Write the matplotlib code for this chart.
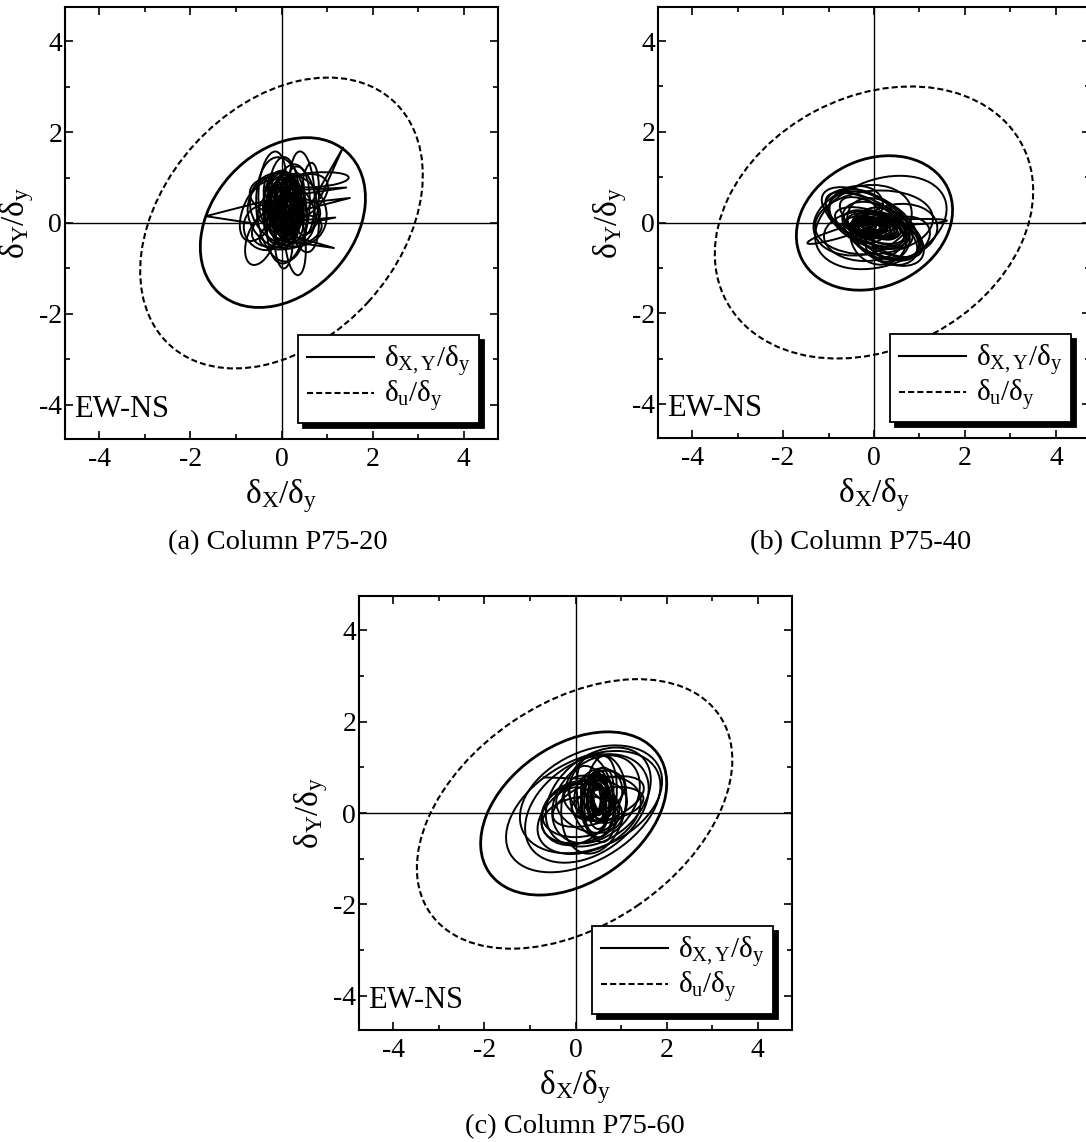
import matplotlib
matplotlib.use('Agg')
import matplotlib.pyplot as plt
from matplotlib.patches import Ellipse
from matplotlib.lines import Line2D
from matplotlib.ticker import MultipleLocator

plt.rcParams['font.family'] = ['Liberation Serif', 'DejaVu Serif']
plt.rcParams['mathtext.fontset'] = 'custom'
plt.rcParams['mathtext.rm'] = 'Liberation Serif'
plt.rcParams['mathtext.it'] = 'Liberation Serif:italic'

# ---------------- data ----------------
panel_titles = ['(a) Column P75-20', '(b) Column P75-40', '(c) Column P75-60']
x_ticks = [-4, -2, 0, 2, 4]
y_ticks = [-4, -2, 0, 2, 4]
axis_lim = [-4.75, 4.75]
site_label = 'EW-NS'

# ultimate-deformation (dashed) ellipses: cx, cy, width, height, angle
ult_cx = [0.0, 0.0, -0.02]
ult_cy = [0.0, 0.0, -0.02]
ult_w = [7.27, 7.36, 7.68]
ult_h = [5.15, 5.55, 4.87]
ult_ang = [47.7, 28.0, 34.1]

# trajectory loops (cx, cy, width along angle, height, angle); first = largest loop
loops_a = [
    (0.03, 0.01, 4.18, 3.10, 48),
    (0.75, 0.95, 1.45, 0.32, 4),
    (-0.2, 0.75, 0.6, 1.65, -5),
    (0.45, 0.65, 0.55, 1.85, 3),
    (0.05, 0.45, 0.7, 2.0, 0),
    (0.0, 0.3, 1.1, 2.3, 5),
    (0.15, 0.2, 0.9, 2.2, -8),
    (0.45, 0.3, 0.7, 1.9, 8),
    (0.62, 0.55, 0.4, 1.55, -3),
    (-0.45, 0.3, 0.75, 1.5, -25),
    (-0.35, -0.1, 0.95, 1.0, 20),
    (-0.45, -0.35, 0.6, 1.2, -20),
    (0.05, -0.35, 0.4, 1.3, 0),
    (0.3, -0.4, 0.45, 1.5, 5),
    (0.2, -0.2, 1.4, 0.7, 15),
    (0.1, 0.0, 1.6, 0.9, 25),
    (0.25, 0.5, 1.7, 0.9, 30),
    (-0.1, 0.6, 1.2, 0.8, -10),
    (0.15, 0.3, 1.5, 1.8, 50),
    (0.0, 0.2, 1.4, 1.6, 40),
    (0.05, 0.35, 0.6, 1.3, 0),
    (0.1, 0.4, 0.5, 1.1, -10),
    (0.0, 0.3, 0.45, 1.0, 10),
    (0.1, 0.25, 0.4, 0.9, -5),
    (0.05, 0.5, 0.35, 0.8, 5),
    (0.15, 0.4, 0.5, 0.7, -20),
    (-0.05, 0.2, 0.5, 0.8, 20),
    (0.1, 0.1, 0.45, 0.9, 0),
    (0.0, 0.55, 0.55, 0.9, -15),
    (0.2, 0.3, 0.4, 1.0, 10),
    (0.05, 0.35, 0.3, 0.6, 0),
    (0.1, 0.45, 0.25, 0.5, -10),
    (-0.1, 0.4, 0.6, 1.2, -5),
    (0.25, 0.15, 0.6, 1.2, 5),
    (0.05, 0.0, 0.7, 1.0, -30),
    (0.1, 0.65, 0.7, 1.0, 30),
    (0.0, 0.4, 0.8, 1.5, 0),
    (0.1, 0.35, 0.75, 1.6, 10),
    (-0.05, 0.3, 0.65, 1.4, -10),
    (0.15, 0.45, 0.6, 1.3, 5),
    (0.05, 0.2, 0.8, 1.2, 0),
    (0.0, 0.6, 0.5, 1.0, 0),
    (0.1, 0.05, 0.6, 1.1, 0),
    (-0.15, 0.5, 0.45, 1.1, 10),
    (0.25, 0.5, 0.45, 1.2, -10),
    (0.05, 0.3, 0.35, 1.1, 0),
    (0.15, 0.35, 0.35, 1.2, 5),
    (-0.05, 0.45, 0.35, 1.0, -5),
    (0.1, 0.2, 0.3, 1.0, 0),
    (0.2, 0.5, 0.3, 0.9, 0),
    (0.0, 0.15, 0.4, 0.9, 10),
    (0.05, 0.6, 0.4, 0.9, -5),
    (-0.1, 0.3, 0.3, 0.9, 0),
    (0.25, 0.3, 0.35, 1.1, 0),
    (0.1, 0.35, 0.2, 0.8, 0),
    (0.05, 0.25, 0.2, 0.6, 0),
    (0.15, 0.55, 0.25, 0.7, 0),
]
loops_b = [
    (0.01, -0.01, 3.57, 2.80, 26),
    (0.15, 0.0, 3.0, 1.9, 20),
    (0.7, 0.01, 1.8, 0.12, 2),
    (-0.7, -0.22, 1.6, 0.2, 17),
    (-0.25, 0.05, 2.2, 1.5, 15),
    (0.0, -0.05, 2.4, 0.95, -30),
    (0.1, -0.1, 2.0, 0.8, -35),
    (-0.1, 0.05, 1.9, 1.1, -25),
    (0.2, -0.2, 1.8, 1.2, -40),
    (-0.3, 0.2, 1.6, 1.0, -20),
    (0.3, -0.3, 1.5, 0.9, -30),
    (0.0, 0.0, 2.6, 1.4, 5),
    (0.5, -0.2, 1.8, 1.2, 10),
    (-0.2, -0.3, 1.8, 1.1, 0),
    (-0.4, 0.35, 1.2, 0.9, 10),
    (0.3, -0.4, 1.0, 0.9, 30),
    (0.1, -0.3, 1.3, 1.2, -50),
    (0.6, -0.35, 1.3, 0.9, 20),
    (-0.15, 0.1, 2.2, 1.0, -28),
    (0.2, -0.25, 2.0, 1.1, -32),
    (-0.05, -0.1, 1.7, 0.7, -20),
    (0.25, -0.35, 1.6, 0.8, -15),
    (-0.35, 0.1, 1.4, 0.9, -35),
    (0.0, -0.08, 1.2, 0.5, -15),
    (0.0, -0.1, 1.0, 0.4, -10),
    (-0.1, -0.05, 0.8, 0.35, -5),
    (0.1, -0.1, 0.9, 0.45, -25),
    (0.0, -0.05, 0.6, 0.3, -10),
    (-0.2, -0.1, 0.7, 0.35, 0),
    (0.2, -0.15, 0.7, 0.3, -20),
    (0.05, -0.1, 0.5, 0.25, -15),
    (-0.05, -0.05, 0.9, 0.3, 5),
    (0.15, -0.05, 0.8, 0.4, -30),
    (-0.15, -0.12, 0.6, 0.4, -20),
    (0.0, -0.1, 1.4, 0.6, -20),
    (-0.1, -0.1, 1.1, 0.45, -10),
    (0.1, -0.15, 1.2, 0.55, -25),
    (0.0, -0.1, 0.5, 0.2, -10),
    (-0.1, -0.1, 0.6, 0.25, 0),
    (0.1, -0.05, 0.55, 0.25, -20),
    (0.0, -0.12, 0.8, 0.3, -15),
    (-0.2, -0.05, 0.5, 0.3, -10),
]
loops_c = [
    (-0.04, -0.01, 4.52, 3.0, 35),
    (0.17, 0.03, 3.7, 2.2, 30),
    (0.34, 0.3, 3.3, 2.1, 25),
    (0.25, 0.1, 3.0, 2.0, 35),
    (0.5, 0.35, 2.6, 1.8, 40),
    (0.3, -0.05, 2.4, 1.5, 25),
    (0.45, 0.3, 2.2, 1.6, 45),
    (0.4, 0.2, 1.4, 2.2, -10),
    (0.45, 0.3, 0.8, 1.9, 10),
    (0.55, 0.35, 0.7, 1.8, -5),
    (0.35, 0.25, 0.9, 1.6, 15),
    (0.5, 0.25, 0.5, 1.2, 0),
    (0.45, 0.35, 0.6, 1.0, 20),
    (0.55, 0.3, 0.4, 0.9, 0),
    (0.4, 0.4, 0.5, 1.1, -15),
    (0.5, 0.3, 0.3, 0.7, 0),
    (0.6, 0.4, 0.45, 0.9, 10),
    (0.35, 0.3, 0.45, 0.8, -10),
    (0.5, 0.45, 0.35, 0.8, 5),
    (0.45, 0.2, 0.6, 1.3, 0),
    (0.55, 0.4, 0.55, 1.2, -8),
    (0.3, 0.1, 1.5, 1.0, -20),
    (0.1, -0.15, 1.7, 1.0, 10),
    (0.6, 0.5, 1.0, 0.8, 30),
    (0.2, 0.2, 1.0, 0.6, -30),
    (0.7, 0.2, 1.6, 0.7, 10),
    (0.5, 0.25, 2.1, 0.9, 20),
    (0.2, 0.1, 1.9, 1.2, 15),
    (0.5, 0.4, 1.2, 1.0, 60),
    (0.0, 0.0, 1.6, 1.3, 35),
    (0.4, 0.3, 1.3, 0.8, -40),
    (0.5, 0.3, 0.25, 0.6, 0),
    (0.45, 0.25, 0.35, 0.9, 5),
    (0.55, 0.4, 0.3, 0.8, -5),
    (0.4, 0.3, 0.3, 0.7, 0),
    (0.5, 0.2, 0.35, 0.7, 10),
]
# straight excursions (polylines)
spikes_a = [
    [(-0.55, -0.02), (-1.66, 0.15), (-0.3, 0.5)],
    [(0.55, 0.25), (1.35, 1.66), (0.85, 0.55)],
    [(0.25, 0.72), (1.42, 0.78), (0.35, 0.62)],
    [(0.3, 0.42), (1.5, 0.55), (0.45, 0.28)],
    [(0.3, 0.05), (1.18, 0.12), (0.35, -0.05)],
    [(0.3, -0.3), (1.15, -0.55), (0.25, -0.42)],
]
spikes_b = []
spikes_c = [
    [(-0.7, 0.78), (0.2, 0.75), (0.45, 0.55)],
]

loops_all = [loops_a, loops_b, loops_c]
spikes_all = [spikes_a, spikes_b, spikes_c]

legend_labels = ['δ$_{\\mathrm{X,Y}}$/δ$_{\\mathrm{y}}$', 'δ$_{\\mathrm{u}}$/δ$_{\\mathrm{y}}$']
x_label = 'δ$_{\\mathrm{X}}$/δ$_{\\mathrm{y}}$'
y_label = 'δ$_{\\mathrm{Y}}$/δ$_{\\mathrm{y}}$'

# ---------------- layout ----------------
W, H = 1086, 1142
fig = plt.figure(figsize=(W / 100, H / 100), dpi=100)

def px_axes(l, t, r, b):
    return [l / W, 1 - b / H, (r - l) / W, (b - t) / H]

axes_px = [(65, 7, 498, 439), (658, 7, 1090, 438), (359, 596, 792, 1030)]
title_px = [(278, 549), (861, 549), (575, 1133)]

dash = (0, (2.9, 1.5))

for i in range(3):
    ax = fig.add_axes(px_axes(*axes_px[i]))
    ax.set_xlim(axis_lim)
    ax.set_ylim(axis_lim)
    ax.axhline(0, color='black', lw=1.0, zorder=1)
    ax.axvline(0, color='black', lw=1.0, zorder=1)

    ax.add_patch(Ellipse((ult_cx[i], ult_cy[i]), ult_w[i], ult_h[i], angle=ult_ang[i],
                         fill=False, edgecolor='black', lw=1.5, linestyle=dash, zorder=2))
    for j, (cx, cy, w, h, a) in enumerate(loops_all[i]):
        ax.add_patch(Ellipse((cx, cy), w, h, angle=a, fill=False, edgecolor='black',
                             lw=2.0 if j == 0 else 1.4, zorder=3))
    for sp in spikes_all[i]:
        xs = [p[0] for p in sp]
        ys = [p[1] for p in sp]
        ax.plot(xs, ys, color='black', lw=1.4, zorder=3)

    ax.set_xticks(x_ticks)
    ax.set_yticks(y_ticks)
    ax.set_xticklabels([str(v) for v in x_ticks])
    ax.set_yticklabels([str(v) for v in y_ticks])
    ax.xaxis.set_minor_locator(MultipleLocator(1))
    ax.yaxis.set_minor_locator(MultipleLocator(1))
    ax.tick_params(which='both', direction='in', top=True, right=True, width=1.2,
                   labelsize=20)
    ax.tick_params(axis='x', which='major', pad=6)
    ax.tick_params(axis='y', which='major', pad=2)
    ax.tick_params(which='major', length=6)
    ax.tick_params(which='minor', length=3.5)
    for s in ax.spines.values():
        s.set_linewidth(1.5)
    ax.set_xlabel(x_label, fontsize=24)
    ax.set_ylabel(y_label, fontsize=24)
    ax.xaxis.set_label_coords(0.5, -0.088)
    ax.yaxis.set_label_coords(-0.066, 0.5)

    ax.text(-4.55, -4.1, site_label, fontsize=22, ha='left', va='center', zorder=5)

    handles = [Line2D([], [], color='black', lw=1.5),
               Line2D([], [], color='black', lw=1.5, linestyle=dash)]
    leg = ax.legend(handles, legend_labels, loc='lower right',
                    bbox_to_anchor=(0.956, 0.037), borderaxespad=0, fontsize=21,
                    fancybox=False, framealpha=1, edgecolor='black',
                    handlelength=2.3, handletextpad=0.35, borderpad=0.3,
                    labelspacing=0.02,
                    shadow={'facecolor': 'black', 'edgecolor': 'black', 'alpha': 1,
                            'ox': 3.6, 'oy': -3.6})
    leg.get_frame().set_linewidth(1.3)
    leg.set_zorder(6)

    fig.text(title_px[i][0] / W, 1 - title_px[i][1] / H, panel_titles[i],
             fontsize=20.5, ha='center', va='baseline')

fig.savefig('out.png', dpi=100)
